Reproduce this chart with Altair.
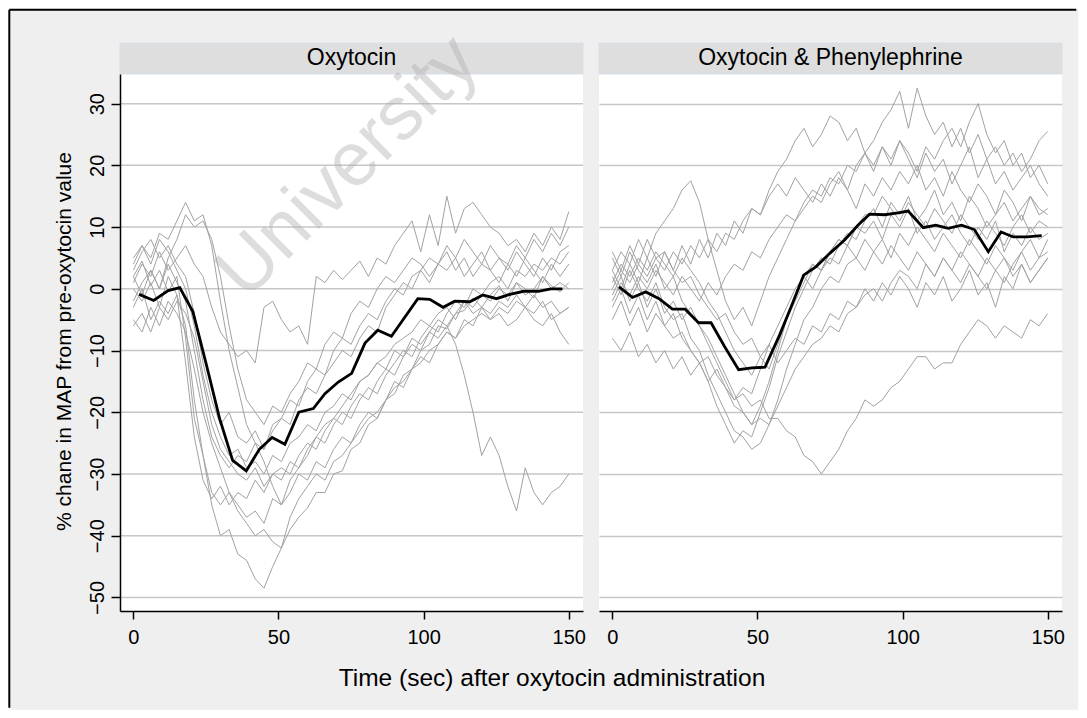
import altair as alt
import pandas as pd

FONT = "Liberation Sans"
PANELS = ["Oxytocin", "Oxytocin & Phenylephrine"]
Y_TITLE = "% chane in MAP from pre-oxytocin value"
X_TITLE = "Time (sec) after oxytocin administration"
WATERMARK = "University"
X_TICKS = [0, 50, 100, 150]
Y_TICKS = [-50, -40, -30, -20, -10, 0, 10, 20, 30]

# sampling times (s) of the individual traces
T = [0, 3, 6, 9, 12, 15, 18, 21, 24, 27, 30, 33, 36, 39, 42, 45, 48, 51, 54, 57,
     60, 63, 66, 69, 72, 75, 78, 81, 84, 87, 90, 93, 96, 99, 102, 105, 108, 111,
     114, 117, 120, 123, 126, 129, 132, 135, 138, 141, 144, 147, 150]

# ---- Oxytocin: individual traces ----
OXY_1 = [2, 4.5, 0.5, 3, -0.5, 2, -8, -21, -27, -35, -40, -39, -43, -44, -47, -48.5,
         -45, -42, -39, -37, -35.5, -33, -33, -30, -29.5, -26, -25, -22, -21, -18, -17,
         -14, -13, -10, -9, -6, -6.5, -4, -3.5, -1.5, -3, -1, 0.5, -2, 1, 0, -1.5, 2, 0.5, -0.5, 1]
OXY_2 = [-3, 0, -5, -2, -4, -1, -6, -18, -27, -33, -35, -33, -36, -38, -40, -39,
         -41, -42, -37, -34, -32, -30, -31, -28, -27, -25, -23, -21, -20, -18, -16, -15,
         -13, -12, -10, -9, -7, -8, -6, -5, -4, -5, -3, -4, -2, -3, -1, -3, -2, -4, -3]
OXY_3 = [5, 7, 4, 8, 6, 3, 0, -6, -14, -20, -24, -27, -26, -29, -28, -30,
         -27, -28, -25, -24, -22, -23, -20, -19, -17, -18, -15, -14, -12, -13, -10, -11,
         -8, -9, -7, -8, -6, -9, -14, -20, -27, -24, -27, -32, -36, -29, -33, -35, -33, -32, -30]
OXY_4 = [0, -2, 1, -3, 2, -1, -12, -24, -31, -34, -32, -35, -33, -34, -31, -33,
         -30, -29, -30, -27, -25, -26, -23, -21, -22, -19, -17, -18, -15, -13, -14, -11,
         -9, -10, -7, -5, -6, -4, -2, -3, -1, -2, 0, -1, 1, -1, 0, 2, 0, 1, 0]
OXY_5 = [-6, -4, -7, -3, -5, -2, -4, -8, -15, -22, -26, -28, -30, -31, -29, -32,
         -30, -31, -28, -29, -26, -24, -25, -22, -20, -21, -18, -16, -17, -14, -12, -10,
         -11, -8, -6, -7, -4, -2, -3, 0, -1, 1, 2, 0, 3, 2, 4, 3, 5, 4, 6]
OXY_6 = [3, 6, 8, 5, 7, 4, 2, -4, -12, -18, -22, -20, -24, -25, -23, -26,
         -22, -21, -18, -19, -15, -13, -14, -10, -8, -9, -6, -4, -5, -2, 0, -1,
         2, 3, 1, 4, 3, 5, 2, 4, 6, 3, 5, 4, 7, 5, 8, 6, 9, 7, 10]
OXY_7 = [1, 4, 2, 6, 3, 5, 7, 4, 2, -3, -7, -9, -11, -10, -12, -3,
         -2, -5, -7, -6, -9, 2, 1, 3, 1.5, 3, 4.5, 2, 5, 4, 7, 9,
         11, 6, 12, 7, 15, 9, 13, 14, 12, 10, 9, 7, 8, 6, 9, 7, 10, 8, 12.5]
OXY_8 = [4, 7, 5, 9, 8, 11, 14, 11, 12, 7, -2, -10, -16, -22, -25, -28,
         -32, -35, -33, -30, -31, -28, -29, -26, -24, -25, -22, -20, -21, -18, -15, -16,
         -13, -11, -12, -9, -7, -8, -5, -6, -3, -4, -2, -3, -1, -3, -4, -2, -5, -4, -3]
OXY_9 = [-2, 1, 3, 0, 5, 8, 12, 10, 11, 8, 2, -6, -13, -18, -20, -22,
         -19, -20, -17, -15, -12, -13, -9, -7, -8, -4, -2, -3, 0, 2, 1, 3,
         5, 4, 2, 4, 6, 3, 5, 2, 4, 3, 1, 4, 2, 5, 3, 1, 4, 2, 4]
OXY_10 = [-5, -7, -3, -6, -2, -4, -7, -13, -20, -25, -29, -33, -35, -37, -36, -38,
          -34, -35, -31, -29, -27, -24, -22, -21, -19, -17, -15, -14, -12, -11, -9, -8,
          -7, -5, -6, -4, -3, -5, -2, -4, -3, -5, -4, -6, -5, -3, -5, -6, -4, -7, -9]
OXY_11 = [2, -1, 3, 0, 4, 1, -2, -10, -18, -24, -27, -29, -27, -28, -25, -26,
          -23, -21, -22, -18, -16, -17, -14, -12, -10, -11, -8, -6, -7, -3, -1, 1,
          0, 3, 5, 4, 7, 5, 8, 6, 4, 7, 5, 3, 6, 4, 2, 5, 3, 6, 7]
OXY_LINES = [OXY_1, OXY_2, OXY_3, OXY_4, OXY_5, OXY_6, OXY_7, OXY_8, OXY_9, OXY_10, OXY_11]

OXY_MEAN_T = [2, 7, 12, 16, 20.5, 25, 29.7, 34.2, 38.9, 43.4, 47.8, 52.2, 57, 62, 66, 70.6,
              75.2, 79.8, 84.2, 88.9, 98, 102.1, 106.7, 110.7, 115.9, 120.4, 125.1, 129.7,
              134.5, 139.5, 143.8, 147.8]
OXY_MEAN_V = [-0.9, -1.9, -0.3, 0.2, -3.7, -12, -21, -27.8, -29.5, -26, -24.1, -25.2, -20, -19.4,
              -17, -15.1, -13.7, -8.8, -6.7, -7.7, -1.6, -1.7, -3, -2, -2.1, -1, -1.6, -0.9,
              -0.4, -0.4, 0, 0]

# ---- Oxytocin & Phenylephrine: individual traces ----
PHE_1 = [-8, -10, -7, -11, -9, -12, -10, -13, -11, -14, -12, -15, -13, -16, -18, -17, -19, -18, -21, -21,
         -23, -24, -27, -28, -30, -28, -26, -23, -21, -18, -19, -18, -16, -15, -13, -11, -11, -13, -12, -12,
         -9, -7, -5, -6, -8, -6, -7, -8, -5, -6, -4]
PHE_2 = [2, -1, 3, 0, -2, 1, -3, -5, -4, -8, -10, -14, -17, -20, -23, -24, -26, -25, -22, -18,
         -13, -9, -5, -3, 0, 2, 1, 4, 5, 3, 6, 8, 5, 9, 7, 10, 8, 6, 9, 7,
         5, 8, 6, 4, 7, 5, 3, 6, 8, 5, 6]
PHE_3 = [-3, 0, -4, -1, -5, -2, -6, -4, -8, -10, -12, -15, -19, -22, -25, -23, -24, -20, -16, -11,
         -7, -3, 0, 3, 5, 4, 7, 9, 8, 11, 13, 10, 14, 12, 15, 11, 13, 16, 12, 14,
         11, 15, 13, 10, 12, 14, 11, 13, 15, 12, 13]
PHE_4 = [3, 6, 4, 8, 5, 9, 11, 13, 16, 17.5, 14, 8, 3, -2, -5, -3, -6, -2, 2, 5,
         8, 11, 13, 15, 14, 17, 19, 16, 20, 22, 19, 23, 20, 24, 21, 18, 22, 19, 21, 17,
         20, 23, 18, 21, 17, 19, 16, 18, 20, 17, 15]
PHE_5 = [0, 3, 1, 4, 2, 5, 3, 6, 4, 7, 5, 8, 6, 9, 8, 11, 13, 12, 16, 19,
         21, 24, 26, 23, 25, 28, 27, 24, 26, 22, 24, 27, 29, 32, 26, 32.5, 28, 25, 27, 23,
         26, 22, 25, 21, 23, 20, 22, 19, 21, 24, 25.5]
PHE_6 = [-2, 1, -1, 2, 0, 3, 1, -1, 2, 0, -2, 1, -1, 2, 4, 3, 6, 5, 8, 10,
         12, 11, 14, 16, 15, 18, 17, 20, 19, 22, 20, 23, 21, 24, 22, 19, 23, 21, 24, 26,
         23, 27, 30, 25, 22, 24, 20, 22, 18, 20, 17]
PHE_7 = [5, 2, 6, 3, 1, 4, 0, 2, -2, -4, -6, -9, -12, -15, -18, -16, -17, -13, -9, -6,
         -3, 0, 2, 4, 3, 6, 8, 7, 10, 9, 11, 8, 12, 10, 13, 9, 11, 8, 10, 12,
         9, 7, 10, 8, 11, 6, 9, 7, 10, 8, 9]
PHE_8 = [-5, -2, -6, -3, -7, -4, -6, -8, -7, -10, -12, -11, -14, -16, -19, -20, -22, -21, -22, -19,
         -16, -13, -11, -9, -8, -6, -7, -4, -3, -1, 0, -2, 1, 3, 2, 0, 4, 2, 5, 3,
         1, 4, 2, 0, 3, 5, 2, 4, 1, 3, 5]
PHE_9 = [1, 4, 2, 5, 3, 6, 4, 2, 5, 3, 1, -2, -4, -7, -10, -12, -14, -11, -13, -9,
         -5, -2, 1, 4, 3, 6, 8, 7, 10, 12, 12, 15, 13, 11, 14, 12, 10, 13, 11, 9,
         12, 10, 8, 11, 9, 7, 10, 12, 9, 11, 10]
PHE_10 = [6, 3, 7, 4, 8, 5, 6, 3, 1, 2, -1, -3, -5, -4, -7, -9, -8, -11, -9, -12,
          -10, -8, -9, -6, -7, -4, -5, -2, -3, 0, -2, 1, -1, 2, 0, -3, 1, -1, 2, -2,
          0, 3, -1, 1, -3, 2, 0, 4, 1, 3, 5]
PHE_11 = [-1, 2, -2, 1, -3, 0, -4, -2, -5, -3, -6, -8, -11, -14, -17, -20, -22, -19, -15, -10,
          -5, -1, 2, 0, 3, 5, 4, 7, 5, 8, 6, 4, 7, 5, 3, 6, 4, 2, 5, 3,
          6, 4, 2, 5, 3, 1, 4, 6, 3, 5, 8]
PHE_12 = [3, 0, 4, 1, 5, 2, 6, 3, 7, 4, 8, 5, 9, 7, 11, 9, 13, 12, 15, 17,
          15, 18, 16, 14, 17, 15, 18, 16, 13, 17, 15, 18, 16, 19, 17, 20, 16, 18, 15, 19,
          16, 14, 17, 15, 12, 16, 14, 11, 15, 13, 12]
PHE_LINES = [PHE_1, PHE_2, PHE_3, PHE_4, PHE_5, PHE_6, PHE_7, PHE_8, PHE_9, PHE_10, PHE_11, PHE_12]

PHE_MEAN_T = [2.3, 6.9, 11.5, 16.1, 20.7, 25.1, 29.7, 34, 38.6, 43.5, 48.1, 52.6, 57.6, 61.6, 65.9,
              70.2, 74.8, 80, 84.6, 88.6, 93.8, 98.4, 101.9, 107.1, 111.4, 115.7, 120.3, 124.7,
              129.5, 133.9, 138.1, 142.8, 147.9]
PHE_MEAN_V = [0.3, -1.4, -0.5, -1.6, -3.3, -3.3, -5.5, -5.5, -9.3, -13.1, -12.8, -12.7, -7.5, -2.9, 2.2,
              3.6, 5.7, 7.9, 10.3, 12.1, 12.0, 12.3, 12.6, 9.9, 10.3, 9.8, 10.3, 9.6,
              6.0, 9.2, 8.4, 8.4, 8.6]


def long_df(lines, prefix):
    rows = []
    for i, vals in enumerate(lines):
        for t, v in zip(T, vals):
            rows.append({"t": t, "v": v, "id": f"{prefix}{i + 1}"})
    return pd.DataFrame(rows)


oxy_df = long_df(OXY_LINES, "o")
phe_df = long_df(PHE_LINES, "p")
oxy_mean = pd.DataFrame({"t": OXY_MEAN_T, "v": OXY_MEAN_V})
phe_mean = pd.DataFrame({"t": PHE_MEAN_T, "v": PHE_MEAN_V})

W, H = 463, 537
GRAY = "#a2a2a2"
GRID = "#c6c6c6"
BG = "#efefef"
xs = alt.Scale(domain=[-4.6, 154.9], nice=False, zero=False)
ys = alt.Scale(domain=[-52.2, 34.8], nice=False, zero=False)

common = dict(domainColor="black", domainWidth=1.5, tickColor="black", tickWidth=1.5,
              labelColor="black", labelFont=FONT, labelFontSize=20, labelFlush=False, title=None)
x_axis = alt.Axis(values=X_TICKS, grid=False, tickSize=8, labelPadding=8, zindex=1, **common)
y_axis_l = alt.Axis(values=Y_TICKS, grid=False, tickSize=9, labelAngle=270, labelAlign="center",
                    labelBaseline="alphabetic", labelPadding=8, zindex=1, **common)
y_axis_r = alt.Axis(values=Y_TICKS, grid=True, gridColor=GRID, gridWidth=1.5, domain=False,
                    ticks=False, labels=False, title=None)

one = pd.DataFrame({"k": [0]})

# frame geometry (pixels relative to the left plot area); the whole canvas must stay
# within the page width minus its margins so that the svg is not shrunk
FR_L, FR_T, FR_R, FR_B = -110.7, -64.3, 958.3, 635.7


def header(label):
    d = pd.DataFrame({"label": [label]})
    band = alt.Chart(d).mark_rect(fill="#dedede", stroke="#d4e0ea", strokeWidth=1).encode(
        x=alt.value(0), x2=alt.value(W), y=alt.value(-31), y2=alt.value(0))
    txt = alt.Chart(d).mark_text(font=FONT, fontSize=23, color="black", align="center",
                                 baseline="alphabetic").encode(
        x=alt.value(W / 2), y=alt.value(-9.3), text="label:N")
    return band, txt


# left panel
bg = alt.Chart(one).mark_rect(color=BG).encode(
    x=alt.value(FR_L), x2=alt.value(FR_R), y=alt.value(FR_T), y2=alt.value(FR_B))
border_l = alt.Chart(one).mark_rule(color="black", strokeWidth=2).encode(
    x=alt.value(FR_L), y=alt.value(FR_T), y2=alt.value(FR_B - 2))
border_t = alt.Chart(one).mark_rule(color="black", strokeWidth=2).encode(
    x=alt.value(FR_L), x2=alt.value(FR_R - 2), y=alt.value(FR_T))
plot_bg = alt.Chart(one).mark_rect(color="white").encode(
    x=alt.value(0), x2=alt.value(W), y=alt.value(0), y2=alt.value(H))
grid_l = alt.Chart(pd.DataFrame({"g": Y_TICKS})).mark_rule(color=GRID, strokeWidth=1.5).encode(
    y=alt.Y("g:Q", scale=ys, axis=y_axis_l), x=alt.value(0), x2=alt.value(W))
gray_l = alt.Chart(oxy_df).mark_line(color=GRAY, strokeWidth=1).encode(
    x=alt.X("t:Q", scale=xs, axis=x_axis), y=alt.Y("v:Q", scale=ys, axis=y_axis_l), detail="id:N")
mean_l = alt.Chart(oxy_mean).mark_line(color="black", strokeWidth=2.8).encode(
    x=alt.X("t:Q", scale=xs, axis=x_axis), y=alt.Y("v:Q", scale=ys, axis=y_axis_l))
hb_l, ht_l = header(PANELS[0])
ytitle = alt.Chart(pd.DataFrame({"label": [Y_TITLE]})).mark_text(
    font=FONT, fontSize=21, angle=270, align="center", baseline="alphabetic", color="black").encode(
    x=alt.value(-49.5), y=alt.value(267.5), text="label:N")
xtitle = alt.Chart(pd.DataFrame({"label": [X_TITLE]})).mark_text(
    font=FONT, fontSize=24.5, align="center", baseline="alphabetic", color="black").encode(
    x=alt.value(432), y=alt.value(612.4), text="label:N")
wm = alt.Chart(pd.DataFrame({"label": [WATERMARK]})).mark_text(
    font=FONT, fontSize=76, angle=315, align="center", baseline="middle",
    color="#b0b0b0", opacity=0.42).encode(
    x=alt.value(228), y=alt.value(93), text="label:N")

left = alt.layer(bg, border_l, border_t, plot_bg, grid_l, gray_l, mean_l, hb_l, ht_l,
                 ytitle, xtitle, wm).properties(width=W, height=H)

# right panel
hb_r, ht_r = header(PANELS[1])
gray_r = alt.Chart(phe_df).mark_line(color=GRAY, strokeWidth=1).encode(
    x=alt.X("t:Q", scale=xs, axis=x_axis), y=alt.Y("v:Q", scale=ys, axis=y_axis_r), detail="id:N")
mean_r = alt.Chart(phe_mean).mark_line(color="black", strokeWidth=2.8).encode(
    x=alt.X("t:Q", scale=xs, axis=x_axis), y=alt.Y("v:Q", scale=ys, axis=y_axis_r))
right = alt.layer(hb_r, ht_r, gray_r, mean_r).properties(width=W, height=H)

chart = alt.hconcat(left, right, spacing=16, bounds="flush").properties(
    padding=0, background="white"
).configure_view(fill="white", strokeWidth=0)

chart.save("out.html", embed_options={"renderer": "svg", "actions": False})
